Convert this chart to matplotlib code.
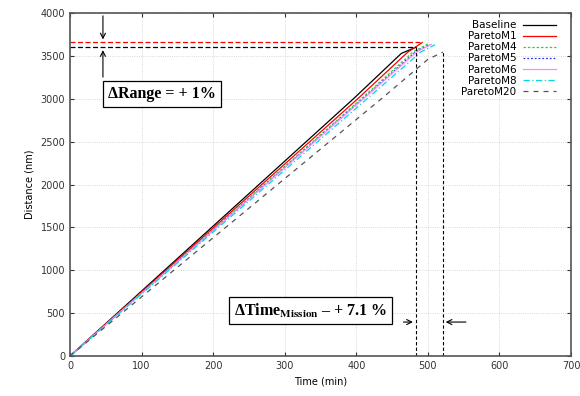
import matplotlib
matplotlib.use("Agg")
import matplotlib.pyplot as plt

plt.rcParams["mathtext.fontset"] = "stix"

# Data (time in min, distance in nm)
names = ["Baseline", "ParetoM1", "ParetoM4", "ParetoM5", "ParetoM6", "ParetoM8", "ParetoM20"]
t_mid = [396, 402, 407, 409, 410, 415, 435]
d_mid = [3000, 3000, 3000, 3000, 3000, 3000, 3000]
t_bend = [463, 472, 480, 483, 485, 490, 500]
d_bend = [3530, 3545, 3550, 3550, 3550, 3545, 3460]
t_end = [483, 492, 500, 503, 505, 510, 521]
d_end = [3600, 3655, 3640, 3635, 3635, 3630, 3545]
colors = ["black", "red", "#22dd22", "#3333ff", "#ff88ff", "#00d8e8", "#555555"]
styles = ["-", "-", (0, (2, 1.5)), (0, (1.5, 1.5)), "-", (0, (5, 2, 1, 2)), (0, (4, 4))]

range_base = 3600
range_best = 3660
time_base = 483
time_m20 = 521

fig = plt.figure(figsize=(5.8, 3.96), dpi=100)
ax = fig.add_axes([0.1207, 0.101, 0.8638, 0.866])

for i, n in enumerate(names):
    ax.plot([0, t_mid[i], t_bend[i], t_end[i]], [0, d_mid[i], d_bend[i], d_end[i]],
            color=colors[i], linestyle=styles[i], lw=0.9, label=n)

# guide lines
ax.plot([0, time_base], [range_base, range_base], color="black", ls=(0, (4, 2)), lw=0.9)
ax.plot([0, t_end[1]], [range_best, range_best], color="red", ls=(0, (4, 2)), lw=0.9)
ax.plot([time_base, time_base], [0, range_base], color="black", ls=(0, (3, 2)), lw=0.8)
ax.plot([time_m20, time_m20], [0, d_end[6]], color="black", ls=(0, (3, 2)), lw=0.8)

arw = dict(arrowstyle="->", color="black", lw=0.8, mutation_scale=9)
# range arrows
ax.annotate("", xy=(46, range_best), xytext=(46, 4000), arrowprops=arw)
ax.annotate("", xy=(46, range_base), xytext=(46, 3220), arrowprops=arw)
ax.text(53, 3055, "ΔRange = + 1%", family="Liberation Serif", fontweight="bold",
        fontsize=11.5, ha="left", va="center",
        bbox=dict(boxstyle="square,pad=0.3", fc="white", ec="black", lw=0.9))

# time arrows
ax.annotate("", xy=(time_base, 396), xytext=(462, 396), arrowprops=arw)
ax.annotate("", xy=(time_m20, 396), xytext=(557, 396), arrowprops=arw)
ax.text(229, 530, r"ΔTime$_{\mathbf{Mission}}$ – + 7.1 %", family="Liberation Serif",
        fontweight="bold", fontsize=11.5, ha="left", va="center",
        bbox=dict(boxstyle="square,pad=0.3", fc="white", ec="black", lw=0.9))

ax.set_xlim(0, 700)
ax.set_ylim(0, 4000)
ax.set_xticks(range(0, 701, 100))
ax.set_yticks(range(0, 4001, 500))
ax.tick_params(direction="in", top=True, right=True, labelsize=7, length=3, colors="#333333")
ax.grid(True, color="#cccccc", ls=":", lw=0.6)
for s in ax.spines.values():
    s.set_color("#555555")
    s.set_linewidth(1.2)
ax.set_xlabel("Time (min)", fontsize=7)
ax.set_ylabel("Distance (nm)", fontsize=7)

ax.legend(loc="upper right", bbox_to_anchor=(0.985, 1.0), frameon=False, fontsize=7.5,
          markerfirst=False, handlelength=3.2, labelspacing=0.1, borderaxespad=0.3,
          handletextpad=0.6)

fig.savefig("out.png", dpi=100)
